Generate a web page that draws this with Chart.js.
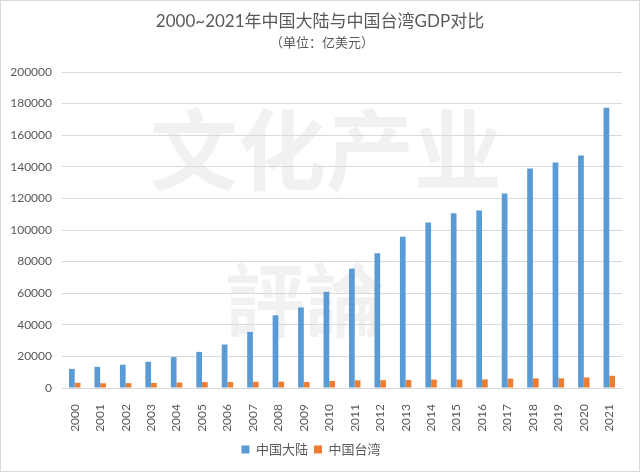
<!DOCTYPE html>
<html>
<head>
<meta charset="utf-8">
<script src="https://cdn.jsdelivr.net/npm/chart.js@4/dist/chart.umd.min.js"></script>
<style>
html,body{margin:0;padding:0;background:#fff;}
#wrap{width:640px;height:474px;position:relative;}
</style>
</head>
<body>
<div id="wrap"><canvas id="c" width="640" height="474"></canvas></div>
<script>
const years = ["2000","2001","2002","2003","2004","2005","2006","2007","2008","2009","2010","2011","2012","2013","2014","2015","2016","2017","2018","2019","2020","2021"];
const mainland = [12113,13394,14705,16602,19553,22860,27521,35522,45982,51000,60871,75515,85322,95704,104757,110616,112333,123104,138948,142799,147227,177341];
const taiwan = [3308,2990,3077,3171,3484,3750,3769,3934,4009,3775,4447,4840,4956,5117,5308,5343,5431,5907,6093,6113,6690,7727];
const seriesNames = ["中国大陆","中国台湾"];
const titleText = "2000~2021年中国大陆与中国台湾GDP对比";
const subtitleText = "（单位：亿美元）";
const watermark1 = "文化产业";
const watermark2 = "評論";

const FONT = "Lato, 'Noto Sans CJK SC', sans-serif";

const bgPlugin = {
  id: 'bg',
  beforeDraw(chart) {
    const ctx = chart.ctx;
    ctx.save();
    ctx.fillStyle = '#fff';
    ctx.fillRect(0, 0, chart.width, chart.height);
    ctx.strokeStyle = '#d9d9d9';
    ctx.lineWidth = 1;
    ctx.strokeRect(0.5, 0.5, chart.width - 1, chart.height - 3);
    ctx.fillStyle = 'rgba(120,120,120,0.10)';
    ctx.font = "bold 88px 'Noto Sans CJK SC'";
    ctx.textBaseline = 'middle';
    ctx.textAlign = 'left';
    ctx.fillText(watermark1, 150, 150);
    ctx.font = "bold 80px 'Noto Sans CJK TC'";
    ctx.fillText(watermark2, 225, 300);
    ctx.restore();
  },
  afterDraw(chart) {
    const ctx = chart.ctx;
    ctx.save();
    ctx.fillStyle = '#595959';
    ctx.textAlign = 'center';
    ctx.textBaseline = 'middle';
    ctx.font = "17px " + FONT;
    ctx.fillText(titleText, 320, 22);
    ctx.font = "13px " + FONT;
    ctx.fillText(subtitleText, 322, 43);
    ctx.restore();
  }
};

new Chart(document.getElementById('c'), {
  type: 'bar',
  data: {
    labels: years,
    datasets: [
      {label: seriesNames[0], data: mainland, backgroundColor: '#5b9bd5', borderWidth: 0, categoryPercentage: 0.45, barPercentage: 1.0},
      {label: seriesNames[1], data: taiwan, backgroundColor: '#ed7d31', borderWidth: 0, categoryPercentage: 0.45, barPercentage: 1.0}
    ]
  },
  options: {
    responsive: false,
    animation: false,
    layout: {padding: {top: 72, right: 18, left: 0, bottom: 8}},
    plugins: {
      legend: {
        position: 'bottom',
        labels: {boxWidth: 8, boxHeight: 8, color: '#595959', font: {family: FONT, size: 13}, padding: 6}
      },
      tooltip: {enabled: false}
    },
    scales: {
      x: {
        grid: {display: false},
        border: {display: false},
        ticks: {color: '#595959', font: {family: FONT, size: 12}, maxRotation: 90, minRotation: 90, autoSkip: false, padding: 8},
        afterFit(s){ s.height = 49; }
      },
      y: {
        min: 0, max: 200000,
        ticks: {stepSize: 20000, color: '#595959', font: {family: FONT, size: 12}, padding: 10, callback: v => String(v)},
        grid: {color: '#d9d9d9', drawTicks: false},
        border: {display: false},
        afterFit(s){ s.width = 62; }
      }
    }
  },
  plugins: [bgPlugin]
});
</script>
</body>
</html>
